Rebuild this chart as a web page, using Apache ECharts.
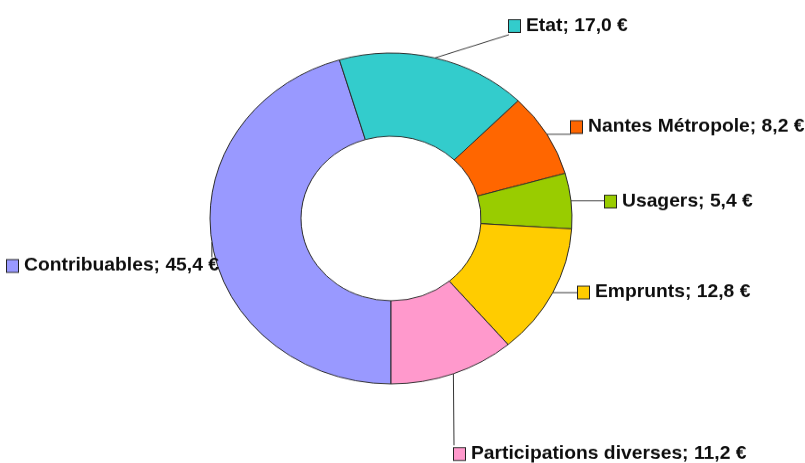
<!DOCTYPE html>
<html>
<head>
<meta charset="utf-8">
<script src="https://cdn.jsdelivr.net/npm/echarts@6/dist/echarts.min.js"></script>
<style>
  html, body { margin: 0; padding: 0; background: #fff; }
  #wrap { width: 805px; height: 463px; overflow: hidden; }
  /* the original picture is slightly squeezed vertically */
  #chart { width: 805px; height: 507px; transform: scaleY(0.914); transform-origin: 0 0; }
</style>
</head>
<body>
<div id="wrap"><div id="chart"></div></div>
<script>
  const names = ['Contribuables', 'Etat', 'Nantes Métropole', 'Usagers', 'Emprunts', 'Participations diverses'];
  const values = [45.4, 17.0, 8.2, 5.4, 12.8, 11.2];
  const colors = ['#9999FF', '#33CCCC', '#FF6600', '#99CC00', '#FFCC00', '#FF99CC'];

  const SY = 0.914;
  // where each label box starts (left of the square, middle y), page pixels
  const labelAt = [[7, 266], [509, 26], [571, 127], [605, 201.5], [578, 292.5], [454, 454]];

  const myChart = echarts.init(document.getElementById('chart'));

  myChart.setOption({
    animation: false,
    color: colors,
    series: [
      {
        type: 'pie',
        center: [391, 239],
        radius: [90, 181],
        startAngle: -90,
        clockwise: true,
        avoidLabelOverlap: false,
        emphasis: { disabled: true },
        itemStyle: {
          borderColor: '#2b2b2b',
          borderWidth: 1
        },
        label: {
          show: true,
          position: 'outside',
          formatter: function (p) {
            return '{box|}{t|' + p.name + '; ' + p.value.toFixed(1).replace('.', ',') + ' €}';
          },
          rich: {
            box: {
              width: 11,
              height: 13,
              borderColor: '#222',
              borderWidth: 1,
              backgroundColor: 'inherit'
            },
            t: {
              fontFamily: '"Liberation Sans", Arial, sans-serif',
              fontWeight: 'bold',
              fontSize: 19.3,
              color: '#0d0d0d',
              padding: [0, 0, 0, 6],
              lineHeight: 22
            }
          }
        },
        labelLine: {
          show: true,
          length: 10,
          length2: 10,
          lineStyle: { color: '#333', width: 1 }
        },
        labelLayout: function (p) {
          const pos = labelAt[p.dataIndex];
          const w = p.labelRect.width, h = p.labelRect.height;
          const x = pos[0], y = pos[1] / SY;
          const a = p.labelLinePoints[0];
          const ex = Math.min(Math.max(a[0], x), x + w);
          const ey = Math.min(Math.max(a[1], y - h / 2), y + h / 2);
          return {
            x: x,
            y: y,
            align: 'left',
            verticalAlign: 'middle',
            labelLinePoints: [a, [ex, ey], [ex, ey]]
          };
        },
        data: names.map(function (n, i) {
          return { name: n, value: values[i], label: { rich: { box: { backgroundColor: colors[i] } } } };
        })
      }
    ]
  });

  window.addEventListener('resize', () => {
    if (myChart) {
      myChart.resize();
    }
  });
</script>
</body>
</html>
